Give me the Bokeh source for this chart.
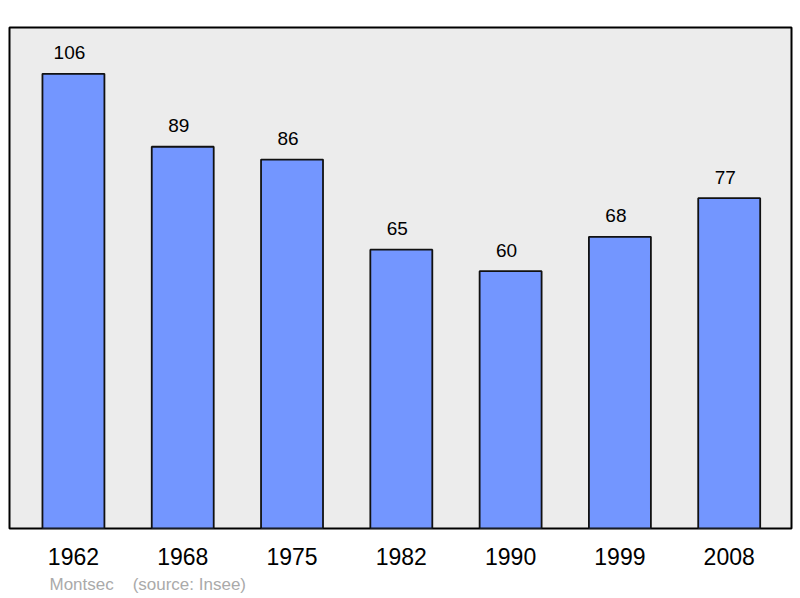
from bokeh.plotting import figure
from bokeh.models import Range1d, FixedTicker, ColumnDataSource, Title
from bokeh.core.properties import value
from bokeh.embed import file_html
from bokeh.resources import INLINE

years = ["1962", "1968", "1975", "1982", "1990", "1999", "2008"]
population = [106, 89, 86, 65, 60, 68, 77]
place = "Montsec"
source_note = "(source: Insee)"

xs = list(range(len(years)))
src = ColumnDataSource(dict(x=xs, y=population, lbl=[str(v) for v in population]))

p = figure(width=800, height=598, output_backend="svg", toolbar_location=None,
           x_range=Range1d(-0.585, 6.57), y_range=Range1d(0, 116.8),
           min_border_left=9, min_border_right=9, min_border_top=27, min_border_bottom=70)
p.background_fill_color = "#ececec"
p.border_fill_color = "white"
p.outline_line_color = "black"
p.outline_line_width = 2
p.grid.visible = False
p.yaxis.visible = False

p.vbar(x="x", top="y", width=0.567, source=src, fill_color="#7396ff",
       line_color="#111111", line_width=1.8)
p.text(x="x", y="y", text="lbl", source=src, text_align="center",
       text_baseline="alphabetic", x_offset=-4, y_offset=-21, text_font_size="19px",
       text_font=value("Liberation Sans"), text_color="black")

ax = p.xaxis[0]
ax.ticker = FixedTicker(ticks=xs)
ax.major_label_overrides = {i: y for i, y in zip(xs, years)}
ax.axis_line_color = None
ax.major_tick_line_color = None
ax.minor_tick_line_color = None
ax.major_tick_out = 0
ax.major_tick_in = 0
ax.major_label_standoff = 19
ax.major_label_text_font_size = "23px"
ax.major_label_text_font = "Liberation Sans"
ax.major_label_text_color = "black"

footer = Title(text=place + "\u00a0" * 4 + source_note, align="left", offset=40,
               standoff=10, text_font_size="17px", text_font="Liberation Sans",
               text_font_style="normal", text_color="#aaaaaa")
p.add_layout(footer, "below")

open("out.html", "w").write(file_html(p, INLINE))
